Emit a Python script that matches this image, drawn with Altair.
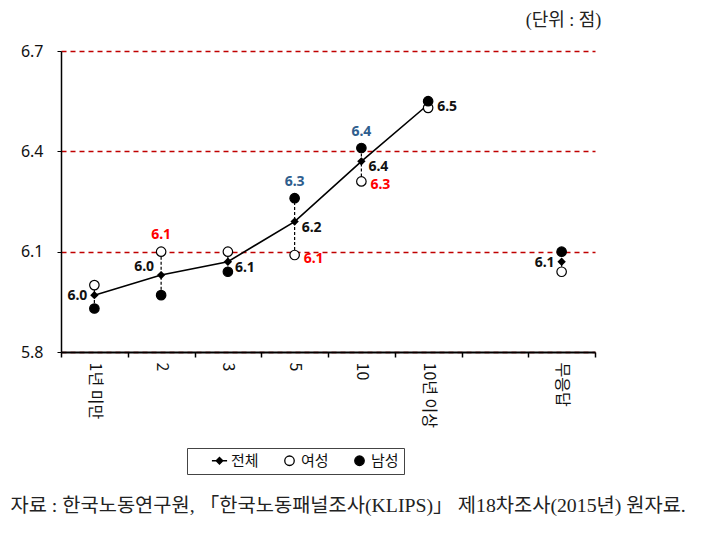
import altair as alt
import pandas as pd

categories = ["1년 미만", "2", "3", "5", "10", "10년 이상", "무응답"]
axis_domain = ["1년 미만", "2", "3", "5", "10", "10년 이상", " ", "무응답"]
total = [5.97, 6.03, 6.07, 6.19, 6.37, 6.54, 6.07]
female = [6.00, 6.10, 6.10, 6.09, 6.31, 6.53, 6.04]
male = [5.93, 5.97, 6.04, 6.26, 6.41, 6.55, 6.10]
series_names = ["전체", "여성", "남성"]
y_ticks = [5.8, 6.1, 6.4, 6.7]

# which labels are shown where
total_right = ["3", "5", "10"]
total_right2 = ["10년 이상"]
total_left = ["1년 미만", "무응답"]
total_left_up = ["2"]
female_above = ["2"]
female_right = ["5", "10"]
male_above = ["5", "10"]

wide = pd.DataFrame({"cat": categories, "total": total, "female": female, "male": male})
long = pd.concat([
    pd.DataFrame({"cat": categories, "series": "여성", "value": female}),
    pd.DataFrame({"cat": categories, "series": "남성", "value": male}),
])

FONT = "Noto Sans"
KFONT = "Noto Sans CJK KR"
SERIF = "Liberation Serif, " + KFONT

x_enc = alt.X("cat:N", scale=alt.Scale(domain=axis_domain, paddingInner=0, paddingOuter=0),
              sort=axis_domain,
              axis=alt.Axis(title="자료 : 한국노동연구원,   「한국노동패널조사(KLIPS)」   제18차조사(2015년)   원자료.",
                            titleX=-51, titleY=153, titleAlign="left", titleBaseline="middle",
                            titleFont=SERIF, titleFontSize=19.8, titleFontWeight="normal",
                            titleColor="#222",
                            labelAngle=90, labelAlign="left", labelBaseline="middle",
                            labelFont=KFONT, labelFontSize=16, labelColor="#111", labelPadding=5,
                            tickBand="extent", tickSize=5, tickColor="black", tickWidth=1.5,
                            domainColor="black", domainWidth=2, grid=False))
y_scale = alt.Scale(domain=[5.8, 6.7], nice=False, zero=False)
y_enc = alt.Y("value:Q", scale=y_scale,
              axis=alt.Axis(values=y_ticks, format=".1f", title="(단위 : 점)",
                            titleAngle=0, titleX=502, titleY=-31, titleAlign="center", titleBaseline="middle",
                            titleFont=SERIF, titleFontSize=18, titleFontWeight="normal", titleColor="#222",
                            labelFont=FONT, labelFontSize=16, labelColor="#111", labelPadding=14,
                            tickSize=4, tickColor="black", domainColor="black", domainWidth=1.5,
                            grid=True, gridColor="#C00000", gridDash=[5, 4], gridWidth=1.3))

base = alt.Chart(wide)

grid_layer = alt.Chart(long).mark_point(opacity=0).encode(x=x_enc, y=y_enc)

rules = base.mark_rule(color="black", strokeDash=[3, 2], strokeWidth=1.2).encode(
    x=alt.X("cat:N", scale=alt.Scale(domain=axis_domain), sort=axis_domain),
    y=alt.Y("female:Q", scale=y_scale),
    y2="male:Q",
)

line = base.transform_filter(alt.datum.cat != "무응답").mark_line(color="black", strokeWidth=1.6).encode(
    x=alt.X("cat:N", sort=axis_domain), y=alt.Y("total:Q", scale=y_scale))

diamonds = base.mark_point(shape="diamond", filled=True, color="black", size=70, opacity=1).encode(
    x=alt.X("cat:N", sort=axis_domain), y=alt.Y("total:Q", scale=y_scale))

legend = alt.Legend(title=None, orient="none", legendX=126, legendY=397, direction="horizontal",
                    strokeColor="#444", fillColor="white", padding=5, symbolOffset=20,
                    labelFont=KFONT, labelFontSize=15, labelColor="#111", columnPadding=3,
                    labelOffset=4, symbolSize=90, symbolStrokeWidth=1.3,
                    labelExpr="datum.label == '남성' ? '남성\u00a0\u00a0\u00a0\u00a0\u00a0\u00a0\u00a0' : datum.label")
legend_shape = "M-1.6,0L1.6,0M0,-0.7L0.7,0L0,0.7L-0.7,0Z"
circles = alt.Chart(long).mark_point(filled=True, strokeWidth=1.2, size=90, opacity=1).encode(
    x=alt.X("cat:N", sort=axis_domain),
    y=alt.Y("value:Q", scale=y_scale),
    shape=alt.Shape("series:N", scale=alt.Scale(domain=series_names, range=[legend_shape, "circle", "circle"]),
                    legend=legend),
    fill=alt.Fill("series:N", scale=alt.Scale(domain=series_names, range=["black", "white", "black"]),
                  legend=legend),
    stroke=alt.Stroke("series:N", scale=alt.Scale(domain=series_names, range=["black", "black", "black"]),
                      legend=legend),
)


def labels(field, cats, color, dx, dy, align):
    return base.transform_filter(alt.FieldOneOfPredicate(field="cat", oneOf=cats)).mark_text(
        font=FONT, fontSize=14, fontWeight="bold", color=color, dx=dx, dy=dy, align=align, baseline="middle"
    ).encode(x=alt.X("cat:N", sort=axis_domain), y=alt.Y(f"{field}:Q", scale=y_scale),
             text=alt.Text(f"{field}:Q", format=".1f"))


BLUE = "#2F5E8E"
RED = "#FF0000"
text_layers = [
    labels("total", total_right, "#111", 7, 6, "left"),
    labels("total", total_right2, "#111", 9, 2, "left"),
    labels("total", total_left, "#111", -7, 1, "right"),
    labels("total", total_left_up, "#111", -7, -8, "right"),
    labels("female", female_above, RED, 0, -17, "center"),
    labels("female", female_right, RED, 9, 4, "left"),
    labels("male", male_above, BLUE, 0, -16, "center"),
]

chart = alt.layer(grid_layer, rules, line, diamonds, circles, *text_layers).properties(
    width=534, height=301,
    padding={"left": 53, "top": 43, "right": 100, "bottom": 171},
    autosize=alt.AutoSizeParams(type="none"),
).configure_view(stroke=None)

chart.save("out.html", embed_options={"renderer": "svg", "actions": False})
